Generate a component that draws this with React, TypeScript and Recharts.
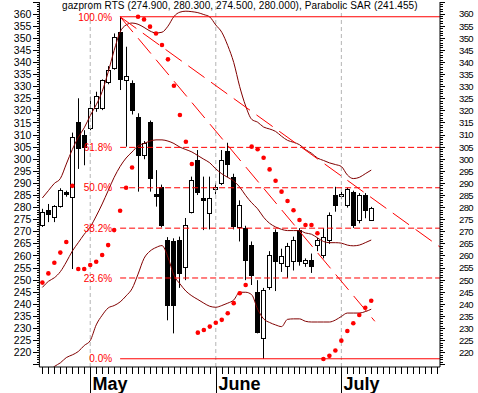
import React from "react";
import { ComposedChart, Bar, Line, XAxis, YAxis, ReferenceLine } from "recharts";

// daily candles (index 0 is the first visible day)
const openP = [273, 279, 276, 280.5, 286.3, 284.5, 315.5, 310, 312.9, 321, 321.2, 332, 337.6, 352.7, 332.7, 331.5, 317.6, 301.7, 315.5, 285.5, 288.6, 266.6, 266, 266.5, 255.4, 278.3, 299.5, 284, 277.6, 287.5, 290.2, 303.5, 292.8, 272.1, 271.6, 264.5, 245, 226.1, 247.2, 269.9, 257, 256, 258, 270.7, 257, 258.5, 264.5, 260.4, 266.6, 285.2, 285, 281.1, 286.5, 275, 285.2, 274.9];
const highP = [279.5, 281.5, 281, 288, 287, 311, 325.2, 312, 325.8, 327.9, 333, 338.5, 352, 358.9, 346.5, 332.6, 319, 307.5, 316, 295.5, 289.5, 267.8, 267.3, 268, 275.7, 292.8, 303.8, 292.8, 292.8, 290, 303.8, 306.8, 294, 283, 272.5, 266, 250, 246.8, 262, 271, 263, 265.4, 268, 271.5, 259, 261, 267.5, 271.5, 278, 288.6, 286.5, 288.2, 287, 286, 286, 280.3];
const lowP = [272, 274, 274, 280, 284.5, 254.6, 296, 297.5, 312, 319.6, 320.3, 331, 337, 328.6, 305.2, 318.5, 286.6, 300, 286.6, 280.4, 271.8, 233.4, 228, 246.8, 250, 277.6, 285.2, 270.7, 271, 285.5, 289.3, 292.5, 271, 266, 250, 248, 228, 217.5, 246, 245.5, 253.4, 250.9, 254, 256, 255.5, 253, 262, 259, 265, 278.3, 283.5, 280, 271.6, 273.5, 275.6, 274.5];
const closeP = [278, 277.5, 280.5, 287.3, 285.5, 309.3, 304.5, 305.2, 321, 326, 332.7, 336.9, 350.6, 333, 334.4, 320.3, 301.7, 306.6, 292.1, 285, 272.8, 239.7, 239.7, 253, 272.8, 291.4, 286.5, 283, 283.8, 288.5, 299.7, 298, 272.5, 281, 258.3, 252, 228.6, 246, 260.5, 258, 260, 264, 266.5, 258, 258.5, 256, 266.6, 267.9, 276.9, 281.1, 285.7, 287.7, 273, 285.2, 279, 280];

const sar = [249, 252.8, 257.2, 261.4, 265.8, 289, 254.6, 254.6, 256.3, 257.6, 260.4, 264.5, 270.7, 278.7, 288.2, 296.6, 358.9, 357.8, 354.8, 352, 347.2, 341.3, 330.4, 318.3, 307.2, 298, 228.3, 229.4, 230.8, 232.4, 233.6, 236.3, 240.5, 244.6, 248, 305.2, 304.1, 300.6, 295.8, 291.1, 286.6, 282.7, 278.9, 274.9, 272.8, 272.8, 269.4, 217.4, 218.7, 220.9, 225, 229, 232.2, 235.6, 238.6, 241.5];

const bbUpper = [284, 287, 290, 292, 298, 304, 309, 313, 318, 322.5, 328, 336, 345, 352.6, 355.5, 356.3, 355.8, 354.5, 353, 352.2, 352.5, 355, 359, 360.8, 361.2, 361, 360.6, 359.8, 358.8, 355.5, 352.5, 347, 340, 330, 322, 316.5, 315.3, 313.3, 312.5, 311.5, 309.5, 307.8, 307, 306, 304, 302.5, 300.5, 299.5, 298.5, 297.8, 297, 293.5, 292, 292.5, 294, 295.5];
const bbMiddle = [247, 249.5, 251, 253.5, 257.5, 262, 265.5, 269, 272, 276.5, 281.5, 287, 292.5, 297, 300.5, 303, 305.5, 306.5, 307.5, 308, 308, 307.5, 306.5, 305, 304, 303, 301.5, 300, 298.5, 296, 294, 292.5, 291, 288.5, 285, 282, 279.5, 276, 273.5, 272, 271, 270.5, 270.5, 270.5, 269.5, 269, 267.5, 266, 265.5, 265.5, 265.3, 264.5, 264.2, 264.5, 265.5, 266.6];
const bbLower = [210, 212, 214.3, 215.8, 218, 219.1, 220.5, 223, 225, 231.5, 235.5, 238.5, 239.5, 241, 243.5, 246.5, 252.5, 259, 262, 263.5, 264.3, 259.5, 252, 248.5, 245.5, 243.5, 242, 240.5, 239.2, 238.8, 239.5, 240.5, 241.8, 245, 245, 244, 238, 234, 232.5, 231.5, 230.8, 233.8, 234, 234, 233, 232.7, 232.7, 232.7, 232.7, 233.5, 235, 236.4, 236.4, 236.4, 237, 238];

const SLOTS = 67;
const monthStarts = [8, 29, 50];
const monthNames = ["May", "June", "July"];

const fibLabels = ["100.0%", "61.8%", "50.0%", "38.2%", "23.6%", "0.0%"];
const fibLevels = [358.9, 304.9, 288.2, 271.5, 250.9, 217.5];
const fibStart = 13;
const fanEnds = [
  { x: 66.5, y: 263.7 },
  { x: 55.6, y: 233 },
];

const yTicks = Array.from({ length: 151 }, (_, k) => 215 + k);

const data = Array.from({ length: SLOTS }, (_, i) => ({
  i,
  o: openP[i],
  h: highP[i],
  l: lowP[i],
  c: closeP[i],
  sar: sar[i],
  up: bbUpper[i],
  mid: bbMiddle[i],
  lo: bbLower[i],
}));

const FONT = "Arial, 'Liberation Sans', sans-serif";
const RED = "#ff0000";
const BAND = "#800000";

const Candle = (props: any) => {
  const { x, y, width, height, payload } = props;
  if (payload == null || payload.h == null) return null;
  const top0 = Math.min(y, y + height);
  const h0 = Math.abs(height);
  const span = payload.h - payload.l;
  const k = span > 0 ? h0 / span : 0;
  const cx = Math.round(x + width / 2) + 0.5;
  const yo = top0 + (payload.h - payload.o) * k;
  const yc = top0 + (payload.h - payload.c) * k;
  const bt = Math.round(Math.min(yo, yc)) + 0.5;
  const bb = Math.round(Math.max(yo, yc)) + 0.5;
  const up = payload.c >= payload.o;
  return (
    <g>
      <line x1={cx} x2={cx} y1={top0} y2={top0 + h0} stroke="#000" strokeWidth={1} />
      <rect
        x={cx - 2}
        y={bt}
        width={4}
        height={Math.max(bb - bt, 1)}
        fill={up ? "#fff" : "#000"}
        stroke="#000"
        strokeWidth={1}
        shapeRendering="crispEdges"
      />
    </g>
  );
};

const SarDot = (props: any) => {
  const { cx, cy, value } = props;
  if (value == null || cx == null || cy == null) return null;
  return <circle cx={cx} cy={cy} r={2.3} fill={RED} />;
};

const LeftTick = (props: any) => {
  const { x, y, payload } = props;
  const v = payload.value;
  const major = v % 5 === 0;
  return (
    <g>
      <line x1={x - (major ? 6 : 2.5)} x2={x} y1={y} y2={y} stroke="#000" shapeRendering="crispEdges" />
      {major && v >= 220 && v <= 360 && (
        <text x={x - 8} y={y} dy={3.6} textAnchor="end" fontSize={10.5} fontFamily={FONT} fill="#000">
          {v}
        </text>
      )}
    </g>
  );
};

const RightTick = (props: any) => {
  const { x, y, payload } = props;
  const v = payload.value;
  const major = v % 5 === 0;
  return (
    <g>
      <line x1={x} x2={x + (major ? 5 : 3)} y1={y} y2={y} stroke="#000" shapeRendering="crispEdges" />
      {major && v >= 220 && v <= 360 && (
        <text x={x + 19} y={y} dy={3.4} textAnchor="start" fontSize={9.5} letterSpacing={-0.6} fontFamily={FONT} fill="#000">
          {v}
        </text>
      )}
    </g>
  );
};

const XTick = (props: any) => {
  const { x, y, payload } = props;
  const m = monthStarts.indexOf(payload.value);
  const lx = Math.round(x) + 0.5;
  return (
    <g>
      <line x1={lx} x2={lx} y1={y} y2={m >= 0 ? 393 : y + 7} stroke="#000" shapeRendering="crispEdges" />
      {m >= 0 && (
        <text x={lx + 2} y={y + 23} fontSize={18} fontWeight="bold" fontFamily={FONT} fill="#000">
          {monthNames[m]}
        </text>
      )}
    </g>
  );
};

export default function App() {
  return (
    <div style={{ position: "absolute", left: 0, top: 0, width: 478, height: 393, background: "#fff" }}>
      <ComposedChart width={478} height={393} data={data} margin={{ top: 2, right: 0, bottom: 0, left: 0 }}>
        <XAxis
          dataKey="i"
          type="category"
          interval={0}
          height={26}
          tickSize={0}
          tickMargin={0}
          tickLine={false}
          tick={<XTick />}
          axisLine={{ stroke: "#000" }}
        />
        <XAxis xAxisId="n" dataKey="i" type="number" domain={[-0.5, 66.5]} allowDataOverflow hide />
        <YAxis
          yAxisId="l"
          orientation="left"
          width={39.4}
          type="number"
          domain={[214.1, 365]}
          allowDataOverflow
          ticks={yTicks}
          interval={0}
          tickSize={0}
          tickMargin={0}
          tickLine={false}
          tick={<LeftTick />}
          axisLine={{ stroke: "#000" }}
        />
        <YAxis
          yAxisId="r"
          orientation="right"
          width={38}
          type="number"
          domain={[214.1, 365]}
          allowDataOverflow
          ticks={yTicks}
          interval={0}
          tickSize={0}
          tickMargin={0}
          tickLine={false}
          tick={<RightTick />}
          axisLine={{ stroke: "#000" }}
        />

        {monthStarts.map((m) => (
          <ReferenceLine key={"m" + m} x={m} yAxisId="l" stroke="#b4b4b4" strokeDasharray="4 3" />
        ))}

        <Bar
          yAxisId="l"
          dataKey={(d: any) => (d.h == null ? null : [d.l, d.h])}
          barSize={5}
          shape={<Candle />}
          isAnimationActive={false}
        />

        <Line yAxisId="l" dataKey="up" type="monotone" stroke={BAND} strokeWidth={1} dot={false} activeDot={false} isAnimationActive={false} />
        <Line yAxisId="l" dataKey="mid" type="monotone" stroke={BAND} strokeWidth={1} dot={false} activeDot={false} isAnimationActive={false} />
        <Line yAxisId="l" dataKey="lo" type="monotone" stroke={BAND} strokeWidth={1} dot={false} activeDot={false} isAnimationActive={false} />
        <Line yAxisId="r" dataKey="mid" stroke="none" dot={false} activeDot={false} isAnimationActive={false} />

        {fibLevels.map((v, k) => (
          <ReferenceLine
            key={"f" + k}
            xAxisId="n"
            yAxisId="l"
            ifOverflow="visible"
            segment={[
              { x: fibStart, y: v },
              { x: 66.5, y: v },
            ]}
            stroke={RED}
            strokeWidth={1}
            strokeDasharray={k === 0 || k === fibLevels.length - 1 ? undefined : "6 3"}
            label={{ value: fibLabels[k], position: "left", offset: 8, fill: RED, fontSize: 10, fontFamily: FONT, dy: k === 0 ? 1 : 0 }}
          />
        ))}

        {fanEnds.map((p, k) => (
          <ReferenceLine
            key={"fan" + k}
            xAxisId="n"
            yAxisId="l"
            ifOverflow="visible"
            segment={[{ x: fibStart, y: fibLevels[0] }, p]}
            stroke={RED}
            strokeWidth={1}
            strokeDasharray="20 8"
          />
        ))}

        <Line yAxisId="l" dataKey="sar" stroke="none" dot={<SarDot />} activeDot={false} isAnimationActive={false} />
      </ComposedChart>
      <div
        style={{
          position: "absolute",
          left: 62,
          top: 0,
          fontFamily: FONT,
          fontSize: 10,
          letterSpacing: 0.1,
          lineHeight: "12px",
          whiteSpace: "nowrap",
          color: "#000",
          pointerEvents: "none",
        }}
      >
        gazprom RTS (274.900, 280.300, 274.500, 280.000), Parabolic SAR (241.455)
      </div>
    </div>
  );
}
